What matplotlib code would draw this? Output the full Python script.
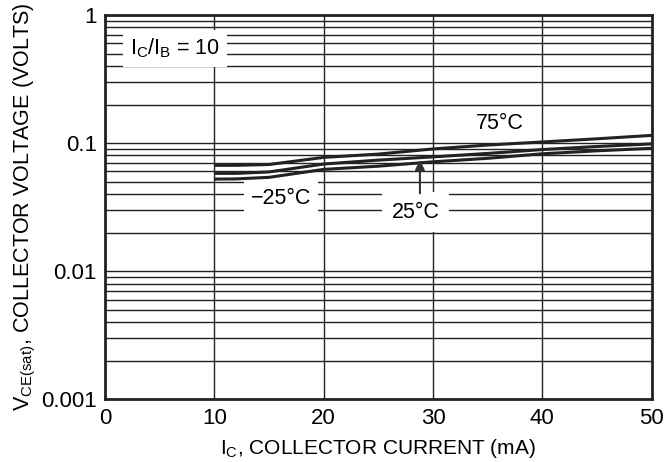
import numpy as np
import matplotlib
matplotlib.use('Agg')
import matplotlib.pyplot as plt
from matplotlib.ticker import FixedLocator, FuncFormatter

plt.rcParams['font.family'] = ['Liberation Sans', 'DejaVu Sans']
plt.rcParams['mathtext.default'] = 'regular'

# collector current (mA)
ic_ma = [10, 12, 15, 20, 25, 30, 35, 40, 45, 50]
# VCE(sat) in volts
vce_75c = [0.067, 0.067, 0.068, 0.0773, 0.082, 0.090, 0.0965, 0.102, 0.108, 0.1148]
vce_25c = [0.058, 0.058, 0.0595, 0.0686, 0.0736, 0.078, 0.083, 0.089, 0.094, 0.0985]
vce_m25c = [0.0523, 0.0525, 0.054, 0.0623, 0.066, 0.0714, 0.076, 0.0825, 0.087, 0.091]

x_ticks = [0, 10, 20, 30, 40, 50]
y_ticks = [0.001, 0.01, 0.1, 1]
y_tick_labels = {0.001: '0.001', 0.01: '0.01', 0.1: '0.1', 1: '1'}

fig = plt.figure(figsize=(6.65, 4.62), dpi=100)
ax = fig.add_axes([0.158, 0.136, 0.822, 0.8315])

ax.set_yscale('log')
ax.set_xlim(0, 50)
ax.set_ylim(0.001, 1)

# grid: minor log lines and vertical lines every 10 mA
ax.xaxis.set_major_locator(FixedLocator(x_ticks))
ax.yaxis.set_major_locator(FixedLocator(y_ticks))
ax.yaxis.set_minor_locator(matplotlib.ticker.LogLocator(base=10, subs=np.arange(2, 10)))
ax.yaxis.set_major_formatter(FuncFormatter(lambda v, p: y_tick_labels.get(round(v, 4), '')))
ax.yaxis.set_minor_formatter(FuncFormatter(lambda v, p: ''))
ax.grid(True, which='both', axis='y', color='#222222', linewidth=1.0)
ax.grid(True, which='major', axis='x', color='#222222', linewidth=1.0)
ax.set_axisbelow(True)

ax.tick_params(which='both', length=0, labelsize=16, colors='black', pad=6)
for sp in ax.spines.values():
    sp.set_linewidth(2.0)
    sp.set_color('#222222')

for vals in (vce_75c, vce_25c, vce_m25c):
    ax.plot(ic_ma, vals, color='#222222', linewidth=2.2, solid_capstyle='butt', zorder=3)

box = dict(facecolor='white', edgecolor='none', pad=5)
ax.text(6.4, 0.55, r'$I_C/I_B$ = 10', fontsize=15.5, ha='center', va='center', bbox=box, zorder=4)
ax.text(36.1, 0.141, '75°C', fontsize=15.5, ha='center', va='center', bbox=box, zorder=4)
ax.text(16.1, 0.0372, '\u221225°C', fontsize=15.5, ha='center', va='center', bbox=box, zorder=4)
ax.text(28.4, 0.0289, '25°C', fontsize=15.5, ha='center', va='center',
        bbox=dict(facecolor='white', edgecolor='none', pad=7), zorder=4)
ax.annotate('', xy=(28.8, 0.0737), xytext=(28.8, 0.0405),
            arrowprops=dict(arrowstyle='-|>', color='#333333', lw=1.5,
                            mutation_scale=14, shrinkA=0, shrinkB=0), zorder=5)

ax.set_xlabel(r'$I_C$, COLLECTOR CURRENT (mA)', fontsize=15, labelpad=6)
ax.set_ylabel(r'$V_{CE(sat)}$, COLLECTOR VOLTAGE (VOLTS)', fontsize=15.5, labelpad=2)

fig.savefig('out.png', dpi=100)
